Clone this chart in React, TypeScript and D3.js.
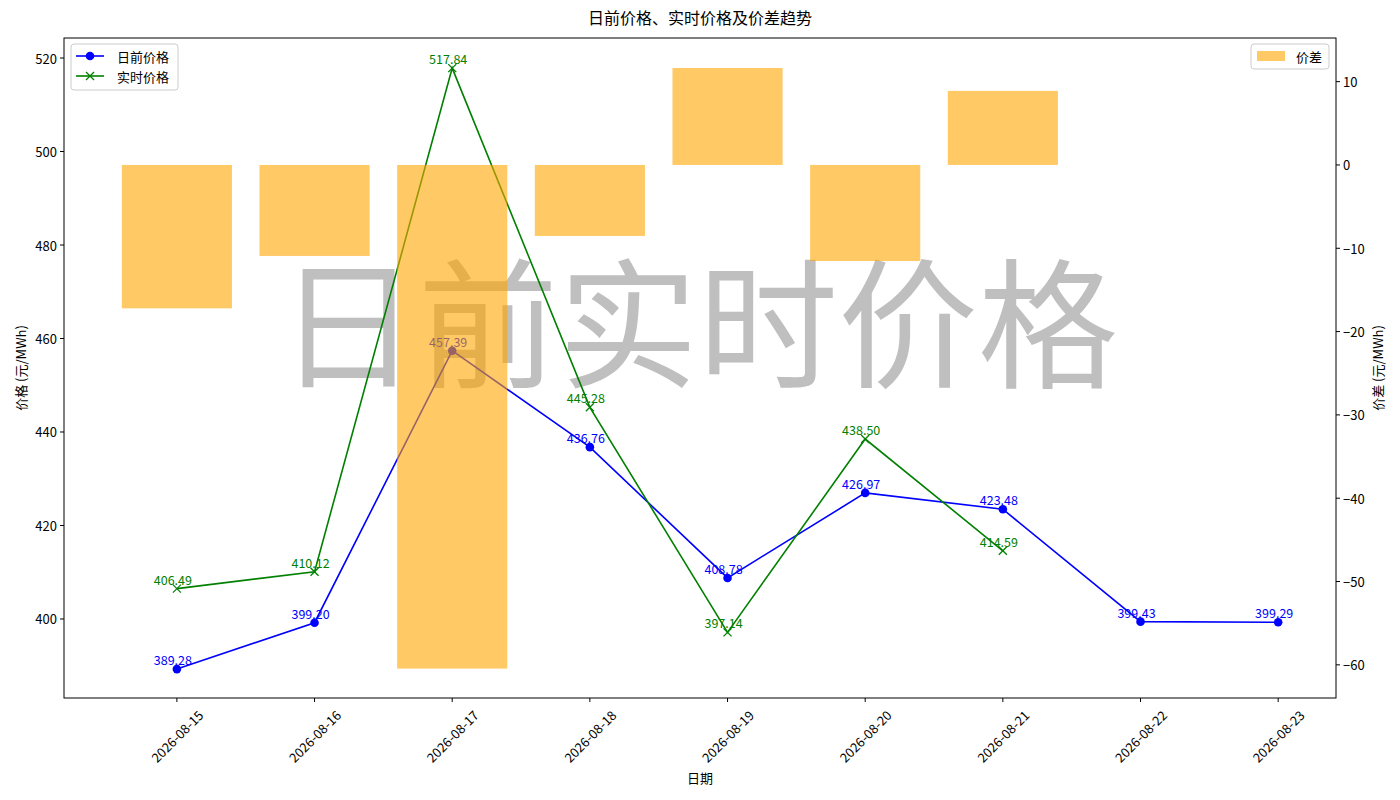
import React from "react";
import * as d3 from "d3";

const dates = ["2026-08-15","2026-08-16","2026-08-17","2026-08-18","2026-08-19","2026-08-20","2026-08-21","2026-08-22","2026-08-23"];
const dayAhead = [389.28, 399.20, 457.39, 436.76, 408.78, 426.97, 423.48, 399.43, 399.29];
const realTime: (number | null)[] = [406.49, 410.12, 517.84, 445.28, 397.14, 438.50, 414.59, null, null];
const leftTicks = [400, 420, 440, 460, 480, 500, 520];
const rightTicks = [-60, -50, -40, -30, -20, -10, 0, 10];

const W = 1400, H = 800;
const L = 64, R = 1336, T = 38, B = 698;
const FONT = "'Noto Sans CJK SC', 'DejaVu Sans', sans-serif";

export default function App() {
  const x = d3.scaleLinear().domain([-0.82, 8.42]).range([L, R]);
  const yL = d3.scaleLinear().domain([383.1, 524.28]).range([B, T]);
  const yR = d3.scaleLinear().domain([-63.98, 15.24]).range([B, T]);
  const diffs = dayAhead.map((d, i) => (realTime[i] == null ? null : d - (realTime[i] as number)));
  const barW = x(0.8) - x(0);

  const lineDA = d3.line<number>().x((_, i) => x(i)).y((d) => yL(d))(dayAhead) || "";
  const rtPts = realTime.map((v, i) => ({ v, i })).filter((p) => p.v != null) as { v: number; i: number }[];
  const lineRT = d3.line<{ v: number; i: number }>().x((p) => x(p.i)).y((p) => yL(p.v))(rtPts) || "";

  const xMark = (cx: number, cy: number, s: number, color: string, key: string) => (
    <g key={key} stroke={color} strokeWidth={1.3}>
      <line x1={cx - s} y1={cy - s} x2={cx + s} y2={cy + s} />
      <line x1={cx - s} y1={cy + s} x2={cx + s} y2={cy - s} />
    </g>
  );

  return (
    <svg width={W} height={H} style={{ position: "absolute", left: 0, top: 0, background: "#fff" }} fontFamily={FONT}>
      <rect x={0} y={0} width={W} height={H} fill="#fff" />
      <text x={700} y={24} textAnchor="middle" fontSize={16} fill="#000">日前价格、实时价格及价差趋势</text>

      {/* watermark */}
      <text x={698} y={316} textAnchor="middle" dominantBaseline="central" fontSize={140} fill="#808080" opacity={0.5}>日前实时价格</text>

      {/* lines */}
      <path d={lineDA} fill="none" stroke="blue" strokeWidth={1.6} />
      {dayAhead.map((d, i) => <circle key={"c" + i} cx={x(i)} cy={yL(d)} r={4.3} fill="blue" />)}
      <path d={lineRT} fill="none" stroke="green" strokeWidth={1.6} />
      {rtPts.map((p) => xMark(x(p.i), yL(p.v), 4, "green", "x" + p.i))}

      {/* labels */}
      {dayAhead.map((d, i) => (
        <text key={"ld" + i} x={x(i) - 4} y={yL(d) - 4} textAnchor="middle" fontSize={12.5} fill="blue">{d.toFixed(2)}</text>
      ))}
      {rtPts.map((p) => (
        <text key={"lr" + p.i} x={x(p.i) - 4} y={yL(p.v) - 4} textAnchor="middle" fontSize={12.5} fill="green">{p.v.toFixed(2)}</text>
      ))}

      {/* bars on secondary axis */}
      {diffs.map((d, i) =>
        d == null ? null : (
          <rect key={"b" + i} x={x(i) - barW / 2} width={barW} y={Math.min(yR(0), yR(d))} height={Math.abs(yR(d) - yR(0))} fill="orange" fillOpacity={0.6} />
        )
      )}

      {/* axes frame */}
      <rect x={L} y={T} width={R - L} height={B - T} fill="none" stroke="#000" strokeWidth={1} />

      {/* left ticks */}
      {leftTicks.map((t) => (
        <g key={"lt" + t}>
          <line x1={L - 4} x2={L} y1={yL(t)} y2={yL(t)} stroke="#000" />
          <text x={L - 7} y={yL(t)} textAnchor="end" dominantBaseline="central" fontSize={13} fill="#000">{t}</text>
        </g>
      ))}
      {/* right ticks */}
      {rightTicks.map((t) => (
        <g key={"rt" + t}>
          <line x1={R} x2={R + 4} y1={yR(t)} y2={yR(t)} stroke="#000" />
          <text x={R + 7} y={yR(t)} textAnchor="start" dominantBaseline="central" fontSize={13} fill="#000">{t < 0 ? "\u2212" + Math.abs(t) : String(t)}</text>
        </g>
      ))}
      {/* x ticks */}
      {dates.map((d, i) => (
        <g key={"xt" + i}>
          <line x1={x(i)} x2={x(i)} y1={B} y2={B + 4} stroke="#000" />
          <text transform={`translate(${x(i)},${B + 38}) rotate(-45)`} textAnchor="middle" dominantBaseline="central" fontSize={13} fill="#000">{d}</text>
        </g>
      ))}

      {/* axis labels */}
      <text x={700} y={783} textAnchor="middle" fontSize={13} fill="#000">日期</text>
      <text transform={`translate(20,${(T + B) / 2}) rotate(-90)`} textAnchor="middle" dominantBaseline="central" fontSize={13} fill="#000">价格 (元/MWh)</text>
      <text transform={`translate(1377,${(T + B) / 2}) rotate(-90)`} textAnchor="middle" dominantBaseline="central" fontSize={13} fill="#000">价差 (元/MWh)</text>

      {/* left legend */}
      <g>
        <rect x={71} y={44} width={107} height={46} rx={3} fill="#fff" fillOpacity={0.8} stroke="#ccc" />
        <line x1={76} x2={104} y1={56} y2={56} stroke="blue" strokeWidth={1.6} />
        <circle cx={90} cy={56} r={4.3} fill="blue" />
        <text x={117} y={56} dominantBaseline="central" fontSize={13} fill="#000">日前价格</text>
        <line x1={76} x2={104} y1={76} y2={76} stroke="green" strokeWidth={1.6} />
        {xMark(90, 76, 4, "green", "lgx")}
        <text x={117} y={76} dominantBaseline="central" fontSize={13} fill="#000">实时价格</text>
      </g>
      {/* right legend */}
      <g>
        <rect x={1251} y={44} width={78} height={25} rx={3} fill="#fff" fillOpacity={0.8} stroke="#ccc" />
        <rect x={1257} y={51} width={28} height={10} fill="orange" fillOpacity={0.6} />
        <text x={1296} y={56} dominantBaseline="central" fontSize={13} fill="#000">价差</text>
      </g>
    </svg>
  );
}
